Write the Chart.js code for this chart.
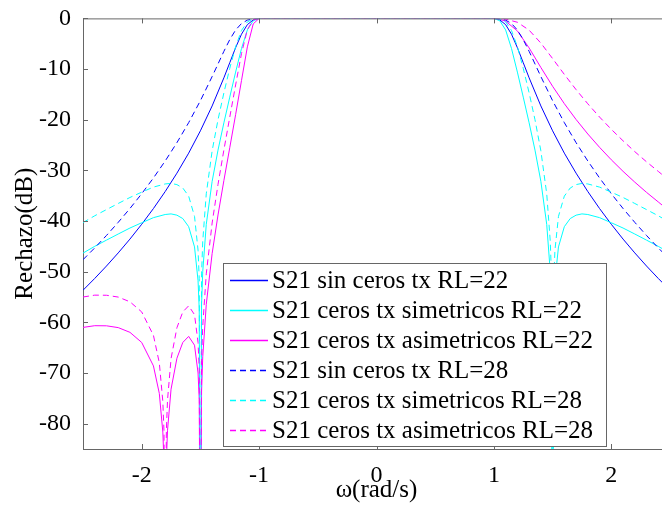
<!DOCTYPE html>
<html>
<head>
<meta charset="utf-8">
<script src="https://cdn.jsdelivr.net/npm/chart.js@4"></script>
<style>
html, body { margin: 0; padding: 0; overflow: hidden; background: #fff; }
#wrap { width: 662px; height: 505px; overflow: hidden; }
</style>
</head>
<body>
<div id="wrap"><canvas id="myChart" width="700" height="505"></canvas></div>
<script>
/* DATA */

// sin ceros de transmision
var wBlue = [-2.5, -2.4, -2.3, -2.2, -2.1, -2, -1.9, -1.8, -1.7, -1.6, -1.5, -1.4, -1.3, -1.25, -1.2, -1.15, -1.1, -1.05, -1,
  0,
  1, 1.05, 1.1, 1.15, 1.2, 1.25, 1.3, 1.4, 1.5, 1.6, 1.7, 1.8, 1.9, 2, 2.1, 2.2, 2.3, 2.4, 2.5];
var sinCeros22 = [-53.66, -51.33, -48.88, -46.29, -43.56, -40.64, -37.53, -34.18, -30.55, -26.6, -22.19, -17.28, -11.73, -8.75, -5.78, -3.12, -1.23, -0.3, 0,
  0,
  0, -0.3, -1.23, -3.12, -5.78, -8.75, -11.73, -17.28, -22.19, -26.6, -30.55, -34.18, -37.53, -40.64, -43.56, -46.29, -48.88, -51.33, -53.66];
var sinCeros28 = [-47.63, -45.3, -42.85, -40.26, -37.52, -34.61, -31.5, -28.15, -24.53, -20.58, -16.24, -11.48, -6.5, -4.19, -2.29, -1.01, -0.34, -0.08, 0,
  0,
  0, -0.08, -0.34, -1.01, -2.29, -4.19, -6.5, -11.48, -16.24, -20.58, -24.53, -28.15, -31.5, -34.61, -37.52, -40.26, -42.85, -45.3, -47.63];

// ceros simetricos en +-1.5
var wCyan = [-2.5, -2.4, -2.3, -2.2, -2.1, -2, -1.9, -1.8, -1.75, -1.7, -1.65, -1.6, -1.55, -1.52, -1.51, -1.5, -1.49, -1.48, -1.45, -1.4, -1.35, -1.3, -1.25, -1.2, -1.15, -1.1, -1.05, -1,
  0,
  1, 1.05, 1.1, 1.15, 1.2, 1.25, 1.3, 1.35, 1.4, 1.45, 1.48, 1.49, 1.5, 1.51, 1.52, 1.55, 1.6, 1.65, 1.7, 1.75, 1.8, 1.9, 2, 2.1, 2.2, 2.3, 2.4, 2.5];
var simetricos22 = [-46.33, -44.99, -43.77, -42.56, -41.38, -40.34, -39.33, -38.71, -38.59, -38.84, -39.51, -41.11, -45.11, -51.78, -57.36, -120, -56.5, -50.0, -40.66, -32.17, -26.0, -20.61, -15.54, -10.6, -5.94, -2.28, -0.47, 0,
  0,
  0, -0.47, -2.28, -5.94, -10.6, -15.54, -20.61, -26.0, -32.17, -40.66, -50.0, -56.5, -120, -57.36, -51.78, -45.11, -41.11, -39.51, -38.84, -38.59, -38.71, -39.33, -40.34, -41.38, -42.56, -43.77, -44.99, -46.33];
var simetricos28 = [-40.3, -38.96, -37.74, -36.53, -35.35, -34.3, -33.3, -32.68, -32.57, -32.81, -33.48, -35.08, -39.08, -45.75, -51.33, -120, -50.44, -43.97, -34.62, -26.14, -20.0, -14.7, -9.86, -5.58, -2.38, -0.69, -0.12, 0,
  0,
  0, -0.12, -0.69, -2.38, -5.58, -9.86, -14.7, -20.0, -26.14, -34.62, -43.97, -50.44, -120, -51.33, -45.75, -39.08, -35.08, -33.48, -32.81, -32.57, -32.68, -33.3, -34.3, -35.35, -36.53, -37.74, -38.96, -40.3];

// ceros asimetricos en -1.8 y -1.5
var wMag = [-2.5, -2.4, -2.3, -2.2, -2.1, -2, -1.9, -1.85, -1.82, -1.81, -1.8, -1.79, -1.78, -1.75, -1.7, -1.65, -1.6, -1.55, -1.52, -1.51, -1.5, -1.49, -1.48, -1.45, -1.4, -1.35, -1.3, -1.25, -1.2, -1.15, -1.1, -1.05, -1,
  0,
  1, 1.05, 1.1, 1.2, 1.3, 1.4, 1.5, 1.6, 1.7, 1.8, 1.9, 2, 2.1, 2.2, 2.3, 2.4, 2.5];
var asimetricos22 = [-61.0, -60.66, -60.68, -61.04, -61.97, -63.97, -68.6, -74.02, -81.66, -87.6, -120, -87.4, -81.3, -73.19, -67.09, -63.97, -62.77, -64.51, -70.0, -75.2, -120, -73.6, -66.8, -56.45, -46.42, -38.8, -32.01, -25.53, -19.0, -12.27, -5.62, -1.09, 0,
  0,
  0, -0.17, -0.55, -2.47, -5.83, -9.69, -13.4, -16.83, -19.96, -22.82, -25.45, -27.91, -30.19, -32.32, -34.34, -36.23, -38.13];
var asimetricos28 = [-55.0, -54.63, -54.65, -55.01, -55.94, -57.94, -62.57, -67.98, -75.63, -81.6, -120, -81.4, -75.3, -67.16, -61.06, -57.94, -56.74, -58.49, -63.98, -69.2, -120, -67.6, -60.77, -50.42, -40.39, -32.77, -25.98, -19.52, -13.14, -6.95, -2.2, -0.3, 0,
  0,
  0, -0.04, -0.14, -0.76, -2.32, -4.87, -7.93, -11.06, -14.06, -16.86, -19.47, -21.9, -24.16, -26.3, -28.31, -30.2, -32.09];

var seriesLabels = [
  'S21 sin ceros tx RL=22',
  'S21 ceros tx simetricos RL=22',
  'S21 ceros tx asimetricos RL=22',
  'S21 sin ceros tx RL=28',
  'S21 ceros tx simetricos RL=28',
  'S21 ceros tx asimetricos RL=28'
];
var xTicks = [-2, -1, 0, 1, 2];
var yTicks = [-80, -70, -60, -50, -40, -30, -20, -10, 0];

/* HELPERS */

var serif = '"Liberation Serif", "Times New Roman", serif';
var axisColor = '#666';

function points(xs, ys) {
  return xs.map(function(x, i) { return { x: x, y: ys[i] }; });
}

function series(i, xs, ys, color, dashed) {
  return {
    label: seriesLabels[i],
    data: points(xs, ys),
    borderColor: color,
    borderWidth: 1,
    borderDash: dashed ? [6, 4] : [],
    pointRadius: 0,
    tension: 0,
    fill: false,
    clip: 0,
    order: 6 - i
  };
}

/* MATLAB STYLE FRAME + LEGEND */

var matlabFrame = {
  id: 'matlabFrame',
  afterDraw: function(chart) {
    var ctx = chart.ctx, a = chart.chartArea;
    var sx = chart.scales.x, sy = chart.scales.y;
    ctx.save();
    // keep the 0 dB passband under the top frame line
    ctx.fillStyle = '#fff';
    ctx.fillRect(a.left + 1, a.top - 3, a.right - a.left, 3);
    ctx.strokeStyle = axisColor;
    ctx.lineWidth = 1;
    ctx.beginPath();
    ctx.moveTo(a.left, a.top + 0.5);
    ctx.lineTo(a.right, a.top + 0.5);
    xTicks.forEach(function(v) {
      var px = Math.round(sx.getPixelForValue(v)) + 0.5;
      ctx.moveTo(px, a.bottom);
      ctx.lineTo(px, a.bottom - 5);
      ctx.moveTo(px, a.top);
      ctx.lineTo(px, a.top + 5);
    });
    yTicks.forEach(function(v) {
      var py = Math.round(sy.getPixelForValue(v)) + 0.5;
      ctx.moveTo(a.left, py);
      ctx.lineTo(a.left + 5, py);
    });
    ctx.stroke();

    // legend box
    var lx = 223, ly = 263, lw = 383, lh = 183;
    ctx.fillStyle = '#fff';
    ctx.fillRect(lx, ly, lw, lh);
    ctx.strokeStyle = axisColor;
    ctx.strokeRect(lx + 0.5, ly + 0.5, lw, lh);
    ctx.font = '25px ' + serif;
    ctx.textBaseline = 'middle';
    chart.data.datasets.forEach(function(ds, i) {
      var y = ly + 17.5 + i * 30;
      ctx.strokeStyle = ds.borderColor;
      ctx.lineWidth = 1.5;
      ctx.setLineDash(ds.borderDash);
      ctx.beginPath();
      ctx.moveTo(lx + 7, y);
      ctx.lineTo(lx + 45, y);
      ctx.stroke();
      ctx.setLineDash([]);
      ctx.fillStyle = '#000';
      ctx.fillText(ds.label, lx + 49, y + 1);
    });
    ctx.restore();
  }
};

/* CHART */

var ctx = document.getElementById('myChart').getContext('2d');

var chart = new Chart(ctx, {
  type: 'line',
  data: {
    datasets: [
      series(0, wBlue, sinCeros22, '#0000ff', false),
      series(1, wCyan, simetricos22, '#00ffff', false),
      series(2, wMag, asimetricos22, '#ff00ff', false),
      series(3, wBlue, sinCeros28, '#0000ff', true),
      series(4, wCyan, simetricos28, '#00ffff', true),
      series(5, wMag, asimetricos28, '#ff00ff', true)
    ]
  },
  options: {
    responsive: false,
    animation: false,
    events: [],
    layout: { padding: { top: 16, right: 30, bottom: 0, left: 0 } },
    plugins: {
      legend: { display: false },
      tooltip: { enabled: false }
    },
    scales: {
      x: {
        type: 'linear',
        min: -2.5,
        max: 2.5,
        afterBuildTicks: function(scale) {
          scale.ticks = xTicks.map(function(v) { return { value: v }; });
        },
        afterFit: function(scale) { scale.height = 56; },
        grid: { display: false },
        border: { display: true, color: axisColor, width: 1 },
        ticks: {
          color: '#000',
          padding: 4,
          maxRotation: 0,
          font: { family: serif, size: 24 },
          callback: function(v) { return String(v); }
        },
        title: {
          display: true,
          text: 'ω(rad/s)',
          color: '#000',
          padding: 0,
          font: { family: serif, size: 25 }
        }
      },
      y: {
        min: -85,
        max: 0,
        afterBuildTicks: function(scale) {
          scale.ticks = yTicks.map(function(v) { return { value: v }; });
        },
        afterFit: function(scale) { scale.width = 83; },
        grid: { display: false },
        border: { display: true, color: axisColor, width: 1 },
        ticks: {
          color: '#000',
          padding: 4,
          font: { family: serif, size: 24 },
          callback: function(v) { return String(v); }
        },
        title: {
          display: true,
          text: 'Rechazo(dB)',
          color: '#000',
          padding: { top: 10, bottom: 0 },
          font: { family: serif, size: 25 }
        }
      }
    }
  },
  plugins: [matlabFrame]
});
</script>
</body>
</html>
